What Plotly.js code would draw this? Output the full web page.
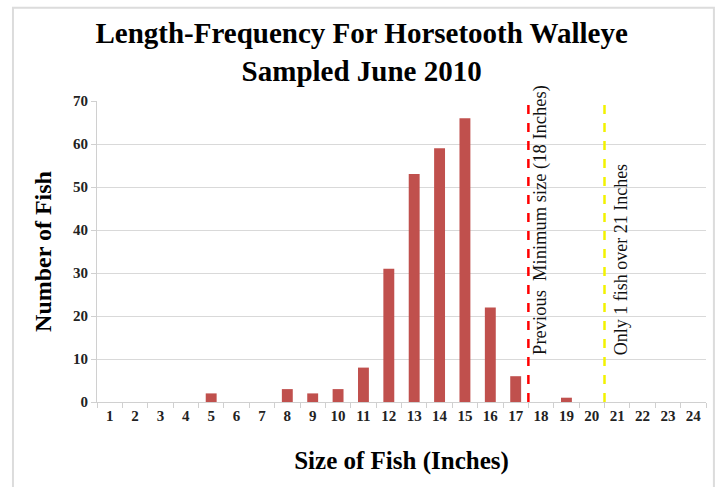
<!DOCTYPE html>
<html>
<head>
<meta charset="utf-8">
<script src="https://cdn.plot.ly/plotly-3.0.1.min.js"></script>
<style>
html,body{margin:0;padding:0;background:#fff;}
#chart{width:719px;height:487px;}
</style>
</head>
<body>
<div id="chart"></div>
<script>
const sizes = [1,2,3,4,5,6,7,8,9,10,11,12,13,14,15,16,17,18,19,20,21,22,23,24];
const counts = [0,0,0,0,2,0,0,3,2,3,8,31,53,59,66,22,6,0,1,0,0,0,0,0];
const yTicks = [0,10,20,30,40,50,60,70];
const prevMinLine = 17.5;
const trophyLine = 20.5;
const serif = "'Liberation Serif', 'Times New Roman', serif";

const trace = {
  type: 'bar',
  x: sizes,
  y: counts,
  marker: {color: '#C0504D'},
  width: 0.43,
  hoverinfo: 'x+y'
};

const layout = {
  width: 719, height: 487,
  margin: {l: 97, r: 13, t: 101, b: 85},
  paper_bgcolor: '#ffffff',
  plot_bgcolor: '#ffffff',
  showlegend: false,
  title: {
    text: '<b>Length-Frequency For Horsetooth Walleye<br>Sampled June 2010</b>',
    font: {family: serif, size: 29, color: '#000'},
    x: 0.503, xanchor: 'center',
    y: 0.912, yanchor: 'middle'
  },
  xaxis: {
    range: [0.5, 24.5],
    tickmode: 'array',
    tickvals: sizes,
    ticktext: sizes.map(v => '<b>' + v + '</b>'),
    ticks: '',
    showgrid: false,
    zeroline: false,
    showline: true,
    linecolor: '#d0d0d0',
    linewidth: 1,
    tickfont: {family: serif, size: 15, color: '#222'},
    minor: {tick0: 0.5, dtick: 1, ticks: 'outside', ticklen: 5, tickcolor: '#d0d0d0', showgrid: false},
    title: {text: '<b>Size of Fish (Inches)</b>', font: {family: serif, size: 25, color: '#000'}, standoff: 28}
  },
  yaxis: {
    range: [0, 70],
    tickmode: 'array',
    tickvals: yTicks,
    ticktext: yTicks.map(v => '<b>' + v + '</b>'),
    ticks: 'outside',
    ticklen: 5,
    tickcolor: '#d0d0d0',
    showgrid: true,
    gridcolor: '#d9d9d9',
    gridwidth: 1,
    zeroline: false,
    showline: true,
    linecolor: '#d0d0d0',
    tickfont: {family: serif, size: 15, color: '#222'},
    title: {text: '<b>Number of Fish</b>', font: {family: serif, size: 24, color: '#000'}, standoff: 14}
  },
  shapes: [
    {type: 'line', xref: 'x', yref: 'paper', x0: prevMinLine, x1: prevMinLine, y0: 0, y1: 1.017,
     line: {color: '#FF0000', width: 2.5, dash: 'dash'}},
    {type: 'line', xref: 'x', yref: 'paper', x0: trophyLine, x1: trophyLine, y0: 0, y1: 1.017,
     line: {color: '#F2F200', width: 2.5, dash: 'dash'}},
    {type: 'rect', xref: 'paper', yref: 'paper', x0: -0.138, x1: 1.013, y0: -0.5, y1: 1.31,
     line: {color: '#dcdcdc', width: 2}, fillcolor: 'rgba(0,0,0,0)', layer: 'above'}
  ],
  annotations: [
    {text: 'Previous  Minimum size (18 Inches)', xref: 'x', yref: 'y', x: 18.0, y: 10.5,
     xanchor: 'center', yanchor: 'bottom', textangle: -90, showarrow: false,
     font: {family: serif, size: 18.5, color: '#111'}},
    {text: 'Only 1 fish over 21 Inches', xref: 'x', yref: 'y', x: 21.15, y: 10.5,
     xanchor: 'center', yanchor: 'bottom', textangle: -90, showarrow: false,
     font: {family: serif, size: 18, color: '#111'}}
  ]
};

Plotly.newPlot('chart', [trace], layout, {displayModeBar: false, staticPlot: true});
</script>
</body>
</html>
